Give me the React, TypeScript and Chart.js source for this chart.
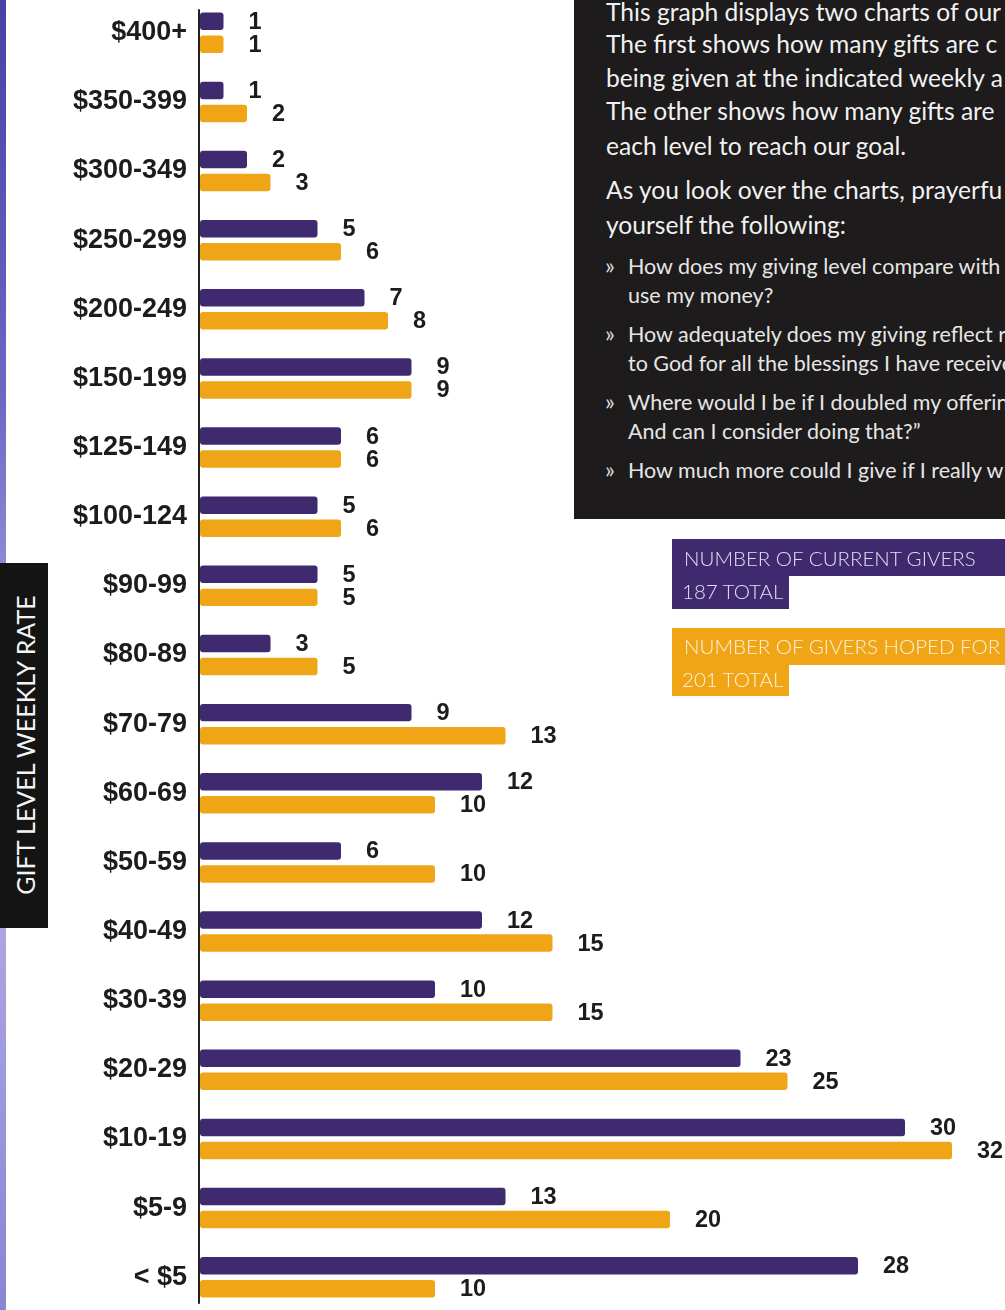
import React, { useEffect, useRef } from "react";
import { Chart, registerables } from "chart.js";

Chart.register(...registerables);

const categories = [
  "$400+", "$350-399", "$300-349", "$250-299", "$200-249", "$150-199", "$125-149",
  "$100-124", "$90-99", "$80-89", "$70-79", "$60-69", "$50-59", "$40-49",
  "$30-39", "$20-29", "$10-19", "$5-9", "< $5",
];
const currentGivers = [1, 1, 2, 5, 7, 9, 6, 5, 5, 3, 9, 12, 6, 12, 10, 23, 30, 13, 28];
const hopedGivers = [1, 2, 3, 6, 8, 9, 6, 6, 5, 5, 13, 10, 10, 15, 15, 25, 32, 20, 10];
const seriesNames = ["NUMBER OF CURRENT GIVERS", "NUMBER OF GIVERS HOPED FOR"];
const seriesTotals = ["187 TOTAL", "201 TOTAL"];
const axisTitle = "GIFT LEVEL WEEKLY RATE";
const introLines = [
  "This graph displays two charts of our",
  "The first shows how many gifts are c",
  "being given at the indicated weekly a",
  "The other shows how many gifts are",
  "each level to reach our goal.",
];
const askLines = ["As you look over the charts, prayerfu", "yourself the following:"];
const bullets = [
  ["How does my giving level compare with", "use my money?"],
  ["How adequately does my giving reflect r", "to God for all the blessings I have receive"],
  ["Where would I be if I doubled my offerin", "And can I consider doing that?\u201d"],
  ["How much more could I give if I really w"],
];

const PURPLE = "#3f2a70";
const ORANGE = "#f0a517";

const valueLabels = {
  id: "valueLabels",
  afterDatasetsDraw(chart: any) {
    const ctx = chart.ctx;
    ctx.save();
    ctx.font = "bold 23.5px 'Liberation Sans', Arial, sans-serif";
    ctx.fillStyle = "#1c1c1c";
    ctx.textAlign = "left";
    ctx.textBaseline = "middle";
    chart.data.datasets.forEach((ds: any, i: number) => {
      const meta = chart.getDatasetMeta(i);
      meta.data.forEach((bar: any, j: number) => {
        ctx.fillText(String(ds.data[j]), bar.x + 25, bar.y + 1);
      });
    });
    const a = chart.chartArea;
    ctx.strokeStyle = "#222";
    ctx.lineWidth = 2;
    ctx.beginPath();
    ctx.moveTo(a.left - 1, a.top + 11);
    ctx.lineTo(a.left - 1, a.bottom - 8);
    ctx.stroke();
    ctx.restore();
  },
};

export default function App() {
  const ref = useRef<HTMLCanvasElement>(null);
  useEffect(() => {
    if (!ref.current) return;
    const chart = new Chart(ref.current, {
      type: "bar",
      data: {
        labels: categories,
        datasets: [
          {
            label: seriesNames[0],
            data: currentGivers,
            backgroundColor: PURPLE,
            borderRadius: 3,
            borderSkipped: false,
            categoryPercentage: 0.666,
            barPercentage: 0.76,
          },
          {
            label: seriesNames[1],
            data: hopedGivers,
            backgroundColor: ORANGE,
            borderRadius: 3,
            borderSkipped: false,
            categoryPercentage: 0.666,
            barPercentage: 0.76,
          },
        ],
      },
      options: {
        indexAxis: "y",
        responsive: false,
        animation: false,
        layout: { padding: { left: 0, right: 6, top: 0, bottom: 0 } },
        plugins: { legend: { display: false }, tooltip: { enabled: false } },
        scales: {
          x: { display: false, min: 0, max: 34 },
          y: {
            afterFit: (s: any) => {
              s.width = 200;
            },
            grid: { display: false, drawTicks: false },
            border: { display: false },
            ticks: {
              padding: 13,
              color: "#1c1c1c",
              font: { family: "'Liberation Sans', Arial, sans-serif", size: 27, weight: "bold" },
            },
          },
        },
      },
      plugins: [valueLabels],
    });
    return () => chart.destroy();
  }, []);

  const boxFont = "Lato, 'Open Sans', sans-serif";
  const introTops = [12, 44, 78, 111, 146];
  const askTops = [190, 225];
  const bulletTops = [[266, 295], [334, 363], [402, 431], [470]];

  return (
    <div style={{ position: "absolute", left: 0, top: 0, width: 1005, height: 1310, overflow: "hidden", background: "#fff" }}>
      <canvas ref={ref} width={1005} height={1372} style={{ position: "absolute", left: 0, top: -31 }} />
      <div style={{ position: "absolute", left: 0, top: 0, width: 6, height: 1310, background: "linear-gradient(#4a3fa6, #6d67c4 30%, #b8b2ea 60%, #8a84d4)" }} />
      <div style={{ position: "absolute", left: 574, top: 0, width: 431, height: 519, background: "#1d1b1b", overflow: "hidden", fontFamily: boxFont, color: "#f1f1f1" }}>
        {introLines.map((t, i) => (
          <div key={"i" + i} style={{ position: "absolute", left: 32, top: introTops[i] - 16, lineHeight: "32px", fontSize: 24.6, whiteSpace: "nowrap" }}>{t}</div>
        ))}
        {askLines.map((t, i) => (
          <div key={"a" + i} style={{ position: "absolute", left: 32, top: askTops[i] - 16, lineHeight: "32px", fontSize: 24.6, whiteSpace: "nowrap" }}>{t}</div>
        ))}
        {bullets.map((b, i) => (
          <React.Fragment key={"b" + i}>
            <div style={{ position: "absolute", left: 31, top: bulletTops[i][0] - 16, lineHeight: "30px", fontSize: 23, whiteSpace: "nowrap", color: "#dcdcdc" }}>{"\u00bb"}</div>
            {b.map((t, k) => (
              <div key={k} style={{ position: "absolute", left: 54, top: bulletTops[i][k] - 15, lineHeight: "30px", fontSize: 21.5, whiteSpace: "nowrap", color: "#e6e6e6" }}>{t}</div>
            ))}
          </React.Fragment>
        ))}
      </div>
      <div style={{ position: "absolute", left: 672, top: 539, width: 333, height: 37, background: PURPLE }} />
      <div style={{ position: "absolute", left: 672, top: 575, width: 117, height: 34, background: PURPLE }} />
      <div style={{ position: "absolute", left: 684, top: 541, lineHeight: "34px", fontSize: 20.5, fontFamily: boxFont, fontWeight: 300, color: "#e2deee", whiteSpace: "nowrap" }}>{seriesNames[0]}</div>
      <div style={{ position: "absolute", left: 682, top: 575, lineHeight: "32px", fontSize: 20.5, fontFamily: boxFont, fontWeight: 300, color: "#e2deee", whiteSpace: "nowrap" }}>{seriesTotals[0]}</div>
      <div style={{ position: "absolute", left: 672, top: 628, width: 333, height: 37, background: ORANGE }} />
      <div style={{ position: "absolute", left: 672, top: 664, width: 117, height: 32, background: ORANGE }} />
      <div style={{ position: "absolute", left: 684, top: 629, lineHeight: "34px", fontSize: 20.5, fontFamily: boxFont, fontWeight: 300, color: "#fdf0dc", whiteSpace: "nowrap" }}>{seriesNames[1]}</div>
      <div style={{ position: "absolute", left: 682, top: 663, lineHeight: "32px", fontSize: 20.5, fontFamily: boxFont, fontWeight: 300, color: "#fdf0dc", whiteSpace: "nowrap" }}>{seriesTotals[1]}</div>
      <div style={{ position: "absolute", left: 0, top: 563, width: 48, height: 365, background: "#141414" }}>
        <div style={{ position: "absolute", left: 25, top: 182, transform: "translate(-50%, -50%) rotate(-90deg)", whiteSpace: "nowrap", color: "#f4f4f4", fontFamily: boxFont, fontSize: 25 }}>{axisTitle}</div>
      </div>
    </div>
  );
}
